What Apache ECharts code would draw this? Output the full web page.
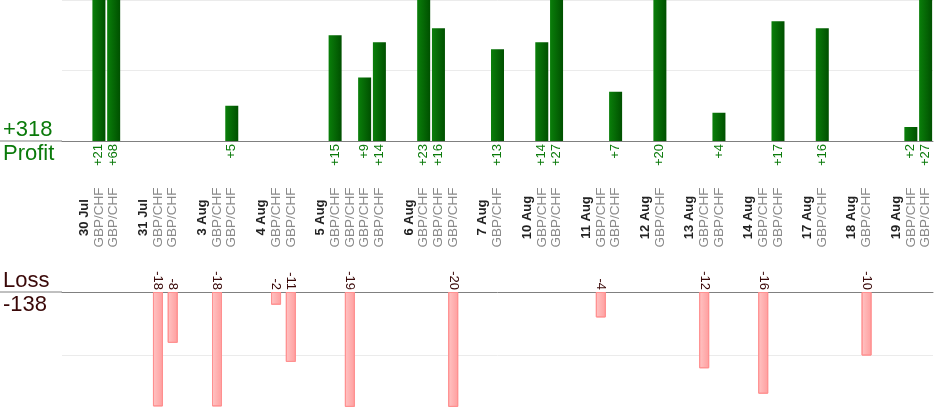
<!DOCTYPE html>
<html>
<head>
<meta charset="utf-8">
<script src="https://cdn.jsdelivr.net/npm/echarts@6/dist/echarts.min.js"></script>
<style>
html, body { margin: 0; padding: 0; background: #fff; }
#main { width: 934px; height: 420px; }
</style>
</head>
<body>
<div id="main"></div>
<script>
var dates = ['30 Jul', '31 Jul', '3 Aug', '4 Aug', '5 Aug', '6 Aug', '7 Aug', '10 Aug',
	'11 Aug', '12 Aug', '13 Aug', '14 Aug', '17 Aug', '18 Aug', '19 Aug'];
var pair = 'GBP/CHF';
// result of each trade, grouped by day
var results = [
	[21, 68],
	[-18, -8],
	[-18, 5],
	[-2, -11],
	[15, -19, 9, 14],
	[23, 16, -20],
	[13],
	[14, 27],
	[-4, 7],
	[20],
	[-12, 4],
	[-16, 17],
	[16],
	[-10],
	[2, 27],
];

// one empty slot, one slot for the day name, then one slot per trade
var slots = [];
var profit = [];
var loss = [];
dates.forEach(function (d, i) {
	slots.push({ kind: 'gap', text: '' });
	profit.push(null);
	loss.push(null);
	slots.push({ kind: 'date', text: d });
	profit.push(null);
	loss.push(null);
	results[i].forEach(function (v) {
		slots.push({ kind: 'pair', text: pair });
		profit.push(v > 0 ? v : null);
		loss.push(v < 0 ? v : null);
	});
});
var cats = slots.map(function (s, i) { return 'c' + i; });

var totalProfit = 0, totalLoss = 0;
profit.forEach(function (v) { if (v) totalProfit += v; });
loss.forEach(function (v) { if (v) totalLoss += v; });

var GREEN = '#0a7a0a';
var DARK = '#3a0808';
var font = '"Liberation Sans", Arial, sans-serif';

var option = {
	animation: false,
	backgroundColor: '#fff',
	textStyle: { fontFamily: font },
	grid: [
		{ left: 62, right: 1, top: 0, height: 141 },
		{ left: 62, right: 1, top: 292, bottom: 13.6 },
	],
	xAxis: [
		{
			gridIndex: 0,
			type: 'category',
			data: cats,
			position: 'bottom',
			axisLine: { lineStyle: { color: '#808080', width: 1 } },
			axisTick: { show: false },
			axisLabel: {
				interval: 0,
				rotate: 90,
				margin: 3,
				fontSize: 13,
				color: GREEN,
				formatter: function (v, i) {
					return profit[i] ? '+' + profit[i] : '';
				},
			},
		},
		{
			gridIndex: 0,
			type: 'category',
			data: cats,
			position: 'bottom',
			axisLine: { show: false },
			axisTick: { show: false },
			axisLabel: {
				interval: 0,
				rotate: 90,
				align: 'center',
				margin: 76.5,
				formatter: function (v, i) {
					var s = slots[i];
					if (s.kind === 'date') return '{d|' + s.text + '}';
					if (s.kind === 'pair') return '{g|' + s.text + '}';
					return '';
				},
				rich: {
					d: { fontSize: 13, fontWeight: 'bold', color: '#222', fontFamily: font },
					g: { fontSize: 13.5, color: '#8a8a8a', fontFamily: font },
				},
			},
		},
		{
			gridIndex: 1,
			type: 'category',
			data: cats,
			position: 'top',
			axisLine: { onZero: false, lineStyle: { color: '#808080', width: 1 } },
			axisTick: { show: false },
			axisLabel: {
				interval: 0,
				rotate: 90,
				margin: 2,
				fontSize: 13,
				color: DARK,
				formatter: function (v, i) {
					return loss[i] ? String(loss[i]) : '';
				},
			},
		},
	],
	yAxis: [
		{
			gridIndex: 0,
			type: 'value',
			min: 0,
			max: 20,
			interval: 10,
			axisLine: { show: false },
			axisTick: { show: false },
			axisLabel: { show: false },
			splitLine: { lineStyle: { color: '#ebebeb' } },
		},
		{
			gridIndex: 1,
			type: 'value',
			min: -18,
			max: 0,
			splitNumber: 2,
			axisLine: { show: false },
			axisTick: { show: false },
			axisLabel: { show: false },
			splitLine: { showMinLine: false, lineStyle: { color: '#ebebeb' } },
		},
	],
	series: [
		{
			type: 'bar',
			xAxisIndex: 0,
			yAxisIndex: 0,
			data: profit,
			barWidth: 13,
			itemStyle: {
				color: new echarts.graphic.LinearGradient(0, 0, 1, 0, [
					{ offset: 0, color: '#0a7f0a' },
					{ offset: 1, color: '#005000' },
				]),
			},
		},
		{
			type: 'bar',
			xAxisIndex: 2,
			yAxisIndex: 1,
			data: loss,
			barWidth: 10,
			itemStyle: {
				color: new echarts.graphic.LinearGradient(0, 0, 1, 0, [
					{ offset: 0, color: '#ffc4c4' },
					{ offset: 1, color: '#ff9e9e' },
				]),
				borderColor: '#ff9090',
				borderWidth: 1,
			},
		},
	],
};

var myChart = echarts.init(document.getElementById('main'));
myChart.setOption(option);

// zero lines run the whole width, totals sit at the left of them
var yTop = myChart.convertToPixel({ xAxisIndex: 0, yAxisIndex: 0 }, [0, 0])[1];
var yBot = myChart.convertToPixel({ xAxisIndex: 2, yAxisIndex: 1 }, [0, 0])[1];
myChart.setOption({
	graphic: [
		{ type: 'line', shape: { x1: 0, y1: yTop, x2: 62, y2: yTop }, style: { stroke: '#808080', lineWidth: 1 } },
		{ type: 'line', shape: { x1: 0, y1: yBot, x2: 62, y2: yBot }, style: { stroke: '#808080', lineWidth: 1 } },
		{ type: 'text', left: 3, top: yTop - 22, style: { text: '+' + totalProfit, fill: GREEN, font: '22px ' + font } },
		{ type: 'text', left: 3, top: yTop + 2, style: { text: 'Profit', fill: GREEN, font: '22px ' + font } },
		{ type: 'text', left: 3, top: yBot - 22, style: { text: 'Loss', fill: DARK, font: '22px ' + font } },
		{ type: 'text', left: 3, top: yBot + 2, style: { text: String(totalLoss), fill: DARK, font: '22px ' + font } },
	],
});
</script>
</body>
</html>
